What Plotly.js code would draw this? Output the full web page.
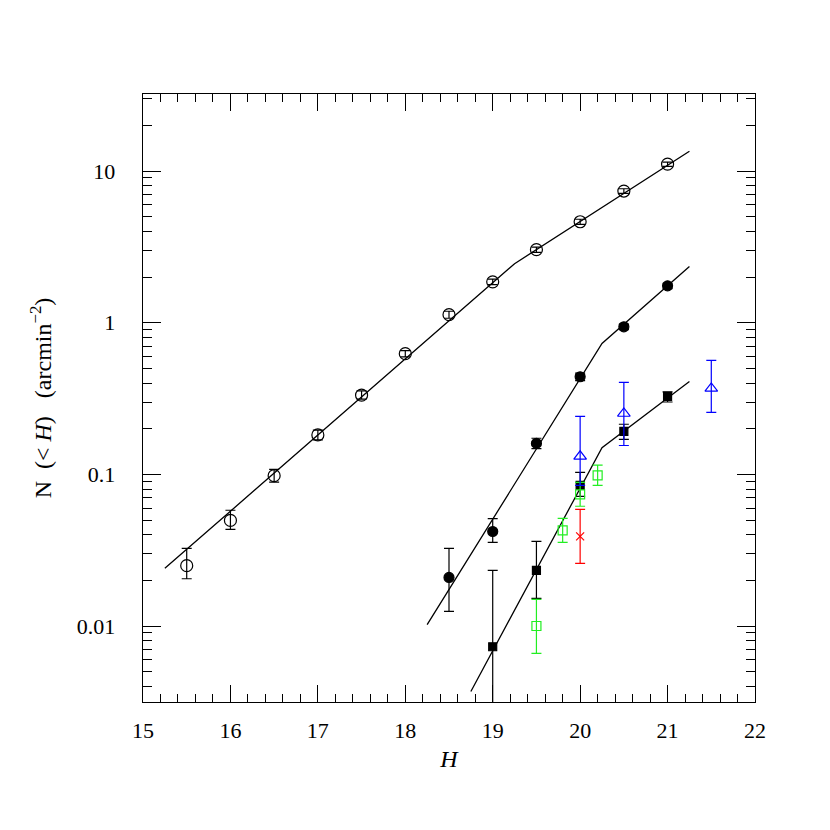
<!DOCTYPE html>
<html>
<head>
<meta charset="utf-8">
<script src="https://cdn.plot.ly/plotly-3.0.1.min.js"></script>
<style>
  html, body { margin: 0; padding: 0; background: #fff; }
  #chart { width: 830px; height: 830px; }
</style>
</head>
<body>
<div id="chart"></div>
<script>
// Counts N(<H) per arcmin^2

// open circles
const hOpen = [15.5, 16, 16.5, 17, 17.5, 18, 18.5, 19, 19.5, 20, 20.5, 21];
const nOpen = [0.025, 0.0497, 0.098, 0.182, 0.333, 0.625, 1.13, 1.86, 3.03, 4.63, 7.38, 11.1];
const nOpenHi = [0.0075, 0.0083, 0.010, 0.014, 0.022, 0.03, 0.06, 0.08, 0.12, 0.18, 0.26, 0.35];
const nOpenLo = [0.0045, 0.0063, 0.009, 0.013, 0.020, 0.03, 0.06, 0.08, 0.12, 0.18, 0.26, 0.35];

// filled circles
const hDisk = [18.5, 19, 19.5, 20, 20.5, 21];
const nDisk = [0.0209, 0.042, 0.16, 0.44, 0.94, 1.75];
const nDiskHi = [0.0116, 0.009, 0.013, 0.025, 0.04, 0.07];
const nDiskLo = [0.0084, 0.0064, 0.012, 0.025, 0.04, 0.07];

// filled squares
const hSquare = [19, 19.5, 20, 20.5, 21];
const nSquare = [0.0073, 0.0233, 0.0846, 0.192, 0.327];
const nSquareHi = [0.016, 0.0128, 0.0184, 0.022, 0.023];
const nSquareLo = [0.0072, 0.0081, 0.013, 0.022, 0.027];

// blue open triangles
const hTri = [20, 20.5, 21.5];
const nTri = [0.1315, 0.252, 0.369];
const nTriHi = [0.11, 0.152, 0.196];
const nTriLo = [0.047, 0.097, 0.113];

// green open squares
const hGreen = [19.5, 19.8, 20, 20.2];
const nGreen = [0.0100, 0.0427, 0.0738, 0.0985];
const nGreenHi = [0.005, 0.0086, 0.0148, 0.0165];
const nGreenLo = [0.0034, 0.0071, 0.0122, 0.0139];

// red cross
const hRed = [20];
const nRed = [0.039];
const nRedHi = [0.0198];
const nRedLo = [0.0131];

// model curves
const hModelA = [15.25, 19.25, 21.25];
const nModelA = [0.024, 2.45, 13.5];
const hModelB = [18.25, 20.25, 21.25];
const nModelB = [0.0102, 0.73, 2.35];
const hModelC = [18.75, 20.25, 21.25];
const nModelC = [0.0037, 0.15, 0.41];

function points(x, y, hi, lo, color, symbol, size) {
    return {
        x: x, y: y, type: 'scatter', mode: 'markers',
        marker: { color: color, symbol: symbol, size: size, line: { color: color, width: 1.2 } },
        error_y: { type: 'data', symmetric: false, array: hi, arrayminus: lo,
                   color: color, thickness: 1.2, width: 5 },
        cliponaxis: true,
        showlegend: false
    };
}

function curve(x, y) {
    return { x: x, y: y, type: 'scatter', mode: 'lines',
             line: { color: 'black', width: 1.3 }, showlegend: false };
}

const traces = [
    curve(hModelA, nModelA),
    curve(hModelB, nModelB),
    curve(hModelC, nModelC),
    points(hOpen, nOpen, nOpenHi, nOpenLo, 'black', 'circle-open', 12),
    points(hDisk, nDisk, nDiskHi, nDiskLo, 'black', 'circle', 10),
    points(hSquare, nSquare, nSquareHi, nSquareLo, 'black', 'square', 8),
    points(hGreen, nGreen, nGreenHi, nGreenLo, '#22ee22', 'square-open', 9),
    points(hTri, nTri, nTriHi, nTriLo, '#0000ff', 'triangle-up-open', 11),
    points(hRed, nRed, nRedHi, nRedLo, '#ff0000', 'x-thin-open', 8)
];

const font = { family: '"Liberation Serif", "DejaVu Serif", serif', size: 22, color: 'black' };
const titleFont = { family: '"Liberation Serif", "DejaVu Serif", serif', size: 24, color: 'black' };

const layout = {
    width: 830, height: 830,
    margin: { l: 143, r: 75, t: 94, b: 128 },
    paper_bgcolor: 'white', plot_bgcolor: 'white',
    font: font,
    xaxis: {
        range: [15, 22], dtick: 1, showgrid: false, zeroline: false,
        showline: true, linecolor: 'black', linewidth: 1.3, mirror: 'allticks',
        ticks: 'inside', ticklen: 17, tickcolor: 'black', tickwidth: 1,
        minor: { ticks: 'inside', ticklen: 8, dtick: 0.2, tickcolor: 'black', tickwidth: 1 },
        ticklabelstandoff: 8,
        title: { text: '<i>H</i>', font: titleFont, standoff: 8 }
    },
    yaxis: {
        type: 'log', range: [-2.501, 1.508], showgrid: false, zeroline: false,
        showline: true, linecolor: 'black', linewidth: 1.3, mirror: 'allticks',
        ticks: 'inside', ticklen: 18, tickcolor: 'black', tickwidth: 1,
        tickvals: [0.01, 0.1, 1, 10], ticktext: ['0.01', '0.1', '1', '10'],
        minor: { ticks: 'inside', ticklen: 9, dtick: 'D1', tickcolor: 'black', tickwidth: 1 },
        ticklabelstandoff: 22,
        title: { text: 'N  (< <i>H</i>)   (arcmin<sup>−2</sup>)', font: titleFont, standoff: 18 }
    }
};

Plotly.newPlot('chart', traces, layout, { displayModeBar: false, staticPlot: true });
</script>
</body>
</html>
